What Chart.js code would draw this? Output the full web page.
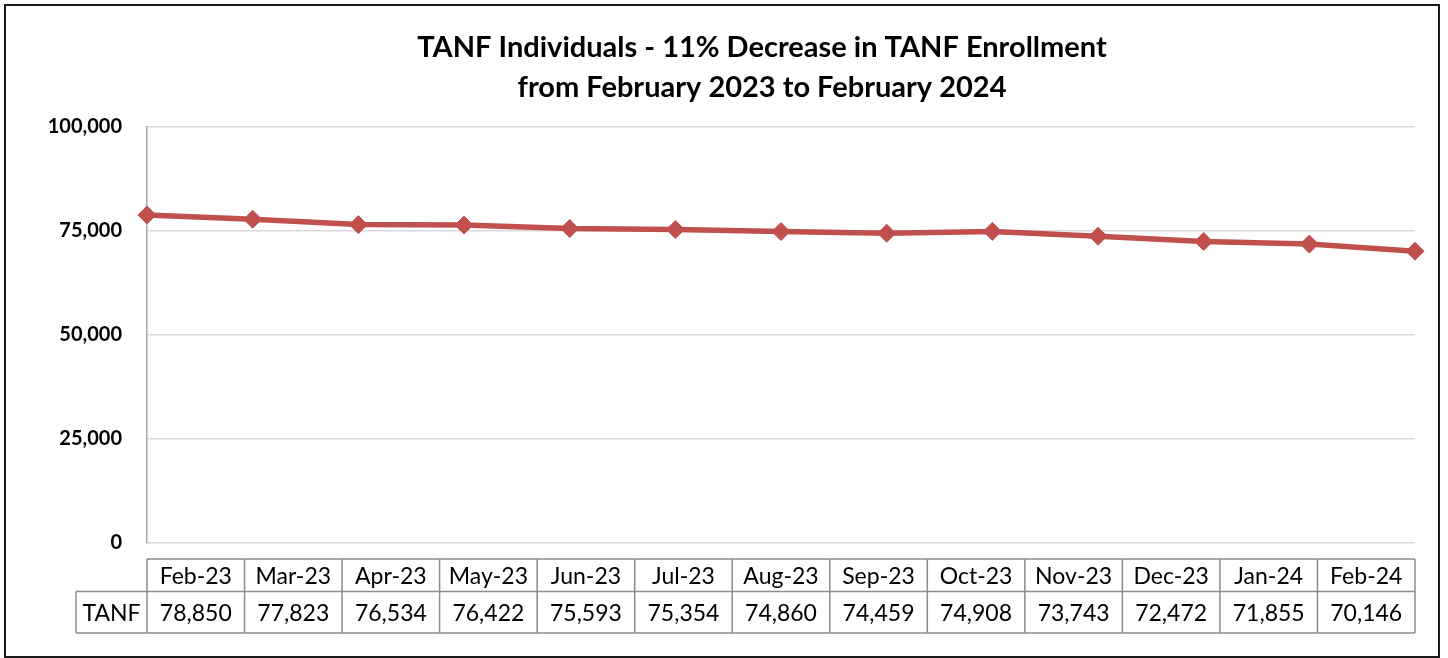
<!DOCTYPE html>
<html>
<head>
<meta charset="utf-8">
<script src="https://cdn.jsdelivr.net/npm/chart.js@4.4.1/dist/chart.umd.min.js"></script>
<style>
  html, body { margin: 0; padding: 0; background: #fff; }
  #wrap { width: 1448px; height: 658px; }
</style>
</head>
<body>
<div id="wrap"><canvas id="tanfChart"></canvas></div>
<script>
const months = ["Feb-23", "Mar-23", "Apr-23", "May-23", "Jun-23", "Jul-23", "Aug-23",
                "Sep-23", "Oct-23", "Nov-23", "Dec-23", "Jan-24", "Feb-24"];
const tanfValues = [78850, 77823, 76534, 76422, 75593, 75354, 74860,
                    74459, 74908, 73743, 72472, 71855, 70146];
const yTicks = [0, 25000, 50000, 75000, 100000];
const seriesLabel = "TANF";
const titleLines = ["TANF Individuals - 11% Decrease in TANF Enrollment",
                    "from February 2023 to February 2024"];

const lineColor = "#C0504D";
const fontFamily = "Lato, 'Open Sans', sans-serif";

// Frame around the whole chart + title (title sits a bit left of the plot centre)
const framePlugin = {
  id: "frame",
  beforeDraw(chart) {
    const ctx = chart.ctx;
    ctx.save();
    ctx.fillStyle = "#fff";
    ctx.fillRect(0, 0, chart.width, chart.height);
    ctx.strokeStyle = "#1a1a1a";
    ctx.lineWidth = 2;
    ctx.strokeRect(5, 5, 1434, 652);

    ctx.fillStyle = "#000";
    ctx.font = "bold 29px " + fontFamily;
    ctx.textAlign = "center";
    ctx.textBaseline = "middle";
    titleLines.forEach((t, i) => ctx.fillText(t, 762, 48 + i * 40));
    ctx.restore();
  }
};

// Data table under the plot, one column per month
const dataTablePlugin = {
  id: "dataTable",
  afterDraw(chart) {
    const { ctx, chartArea } = chart;
    const n = months.length;
    const left = chartArea.left;
    const right = chartArea.right;
    const colW = (right - left) / n;
    const top = chartArea.bottom + 16;
    const mid = top + 32.5;
    const bottom = mid + 41.5;
    const labelLeft = left - 71;

    ctx.save();
    ctx.strokeStyle = "#8c8c8c";
    ctx.lineWidth = 1.5;
    ctx.beginPath();
    ctx.moveTo(left, top); ctx.lineTo(right, top);
    ctx.moveTo(labelLeft, mid); ctx.lineTo(right, mid);
    ctx.moveTo(labelLeft, bottom); ctx.lineTo(right, bottom);
    ctx.moveTo(labelLeft, mid); ctx.lineTo(labelLeft, bottom);
    for (let i = 0; i <= n; i++) {
      const x = left + i * colW;
      ctx.moveTo(x, top); ctx.lineTo(x, bottom);
    }
    ctx.stroke();

    ctx.fillStyle = "#000";
    ctx.font = "23px " + fontFamily;
    ctx.textAlign = "center";
    ctx.textBaseline = "middle";
    months.forEach((m, i) => {
      const cx = left + (i + 0.5) * colW;
      ctx.fillText(m, cx, (top + mid) / 2 + 1);
      ctx.fillText(tanfValues[i].toLocaleString("en-US"), cx, (mid + bottom) / 2 + 1);
    });
    ctx.fillText(seriesLabel, (labelLeft + left) / 2, (mid + bottom) / 2 + 1);
    ctx.restore();
  }
};

new Chart(document.getElementById("tanfChart"), {
  type: "line",
  data: {
    labels: months,
    datasets: [{
      label: seriesLabel,
      data: tanfValues,
      borderColor: lineColor,
      backgroundColor: lineColor,
      borderWidth: 5.5,
      pointStyle: "rectRot",
      pointRadius: 9,
      pointBorderWidth: 1,
      pointBackgroundColor: lineColor,
      pointBorderColor: lineColor,
      tension: 0,
      fill: false,
      clip: false
    }]
  },
  options: {
    responsive: true,
    maintainAspectRatio: false,
    animation: false,
    layout: { padding: { left: 0, right: 33, top: 127, bottom: 115 } },
    plugins: {
      legend: { display: false },
      tooltip: { enabled: false },
      title: { display: false }
    },
    scales: {
      x: {
        display: false,
        offset: false
      },
      y: {
        min: 0,
        max: 100000,
        afterBuildTicks: scale => { scale.ticks = yTicks.map(v => ({ value: v })); },
        afterFit: scale => { scale.width = 147; },
        grid: { color: "#d9d9d9", lineWidth: 1.5, drawTicks: false },
        border: { display: true, color: "#a6a6a6", width: 1.5 },
        ticks: {
          color: "#000",
          padding: 25,
          font: { family: fontFamily, size: 20, weight: "bold" },
          callback: v => v.toLocaleString("en-US")
        }
      }
    }
  },
  plugins: [framePlugin, dataTablePlugin]
});
</script>
</body>
</html>
